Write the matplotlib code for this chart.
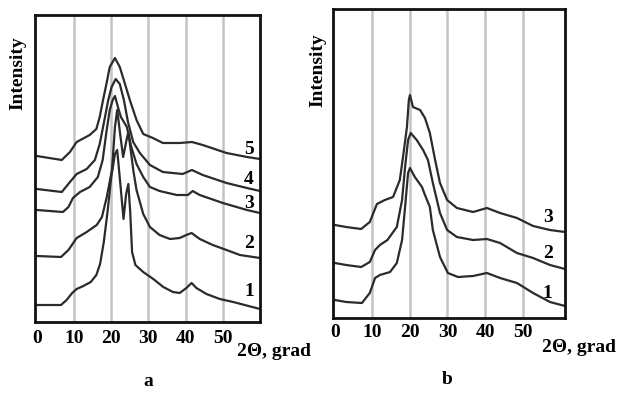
import matplotlib
matplotlib.use("Agg")
import matplotlib.pyplot as plt

# ---------------- data (panel a) ----------------
a1_x = [0, 6.5, 8, 9.5, 10.7, 12.5, 14.5, 16, 17, 18, 19, 20, 21, 21.6, 22.4, 23.3, 24.0, 24.6, 25.1, 25.6, 26.5, 28.6, 31.3, 34, 36.6, 38.4, 40.2, 41.6, 42.9, 45.6, 49.2, 52.8, 60]
a1_y = [17, 17, 22, 29, 33, 36, 40, 47, 58, 80, 110, 145, 168, 172, 140, 103, 128, 138, 110, 70, 57, 50, 43, 35, 30, 29, 34, 39, 34, 28, 23, 20, 13]

a2_x = [0, 6.5, 8.5, 10.7, 13.4, 16.1, 17.5, 18.8, 20.2, 21.0, 21.6, 22.5, 23.2, 24.0, 24.6, 25.3, 26.0, 26.8, 28.6, 30.4, 33, 35.8, 38.4, 40.2, 41.6, 43.8, 47.3, 51, 54.6, 60]
a2_y = [66, 65, 72, 84, 90, 97, 105, 125, 152, 195, 212, 185, 165, 180, 190, 170, 150, 132, 108, 95, 87, 83, 84, 87, 89, 83, 77, 72, 67, 64]

a3_x = [0, 7, 8.5, 9.7, 11.6, 14.2, 16.4, 17.7, 18.7, 19.6, 20.4, 21.0, 21.8, 22.6, 23.4, 24.2, 25.4, 26.8, 28.6, 30.4, 33, 37.6, 40.6, 41.9, 43.8, 50, 56.5, 60]
a3_y = [112, 110, 115, 124, 130, 135, 145, 162, 190, 212, 222, 226, 215, 205, 200, 195, 175, 158, 145, 135, 131, 127, 127, 131, 127, 119, 112, 109]

a4_x = [0, 6.7, 8.9, 10.7, 13.4, 15.6, 16.9, 17.8, 19.2, 20.1, 21.2, 22.3, 23.4, 24.5, 25.9, 27.7, 30.4, 33.9, 39.2, 41.7, 44.6, 51, 56.5, 60]
a4_y = [133, 130, 140, 148, 153, 162, 178, 195, 222, 235, 243, 238, 222, 200, 180, 169, 157, 150, 148, 152, 147, 139, 134, 131]

a5_x = [0, 6.7, 8.9, 10.7, 14.2, 16, 16.9, 17.8, 18.7, 19.6, 21, 22.3, 23.7, 25, 26.8, 28.6, 31.2, 33.9, 38.4, 41.7, 44.6, 51, 56.5, 60]
a5_y = [166, 162, 170, 180, 187, 193, 205, 222, 238, 255, 264, 255, 238, 222, 202, 188, 184, 179, 179, 180, 177, 169, 165, 163]

# ---------------- data (panel b) ----------------
b1_x = [0, 3, 7.2, 9.3, 10.7, 12, 14.7, 16.5, 17.9, 18.7, 19.5, 20, 21.3, 23.2, 24, 25.3, 26.1, 28, 30.1, 32.8, 36.8, 40.5, 44, 48.5, 52.8, 57.3, 61.3]
b1_y = [18, 16, 15, 25, 40, 43, 46, 55, 78, 111, 145, 150, 141, 131, 123, 111, 88, 61, 45, 41, 42, 45, 40, 35, 25, 16, 12]

b2_x = [0, 3, 7, 9.3, 10.7, 12, 14, 16.5, 17.9, 18.7, 19.5, 20.2, 21.8, 23.5, 24.8, 26.1, 28, 29.9, 32.5, 36.8, 40.5, 44, 48.5, 52.8, 57.3, 61.3]
b2_y = [55, 53, 51, 56, 68, 73, 78, 91, 118, 151, 178, 185, 178, 168, 158, 135, 105, 88, 81, 78, 79, 75, 65, 60, 53, 49]

b3_x = [0, 3, 7, 9.3, 11.2, 13.3, 15.5, 17.3, 18.4, 19.2, 19.7, 20, 20.8, 22.7, 24, 25.3, 26.7, 28, 29.9, 32.5, 36.8, 40.5, 44, 48.5, 52.8, 57.3, 61.3]
b3_y = [93, 91, 89, 96, 114, 118, 121, 138, 168, 191, 218, 223, 211, 208, 200, 185, 158, 135, 118, 110, 106, 110, 105, 100, 92, 88, 86]

grid_x = [10, 20, 30, 40, 50]
tick_vals = [0, 10, 20, 30, 40, 50]
tick_labels = ["0", "10", "20", "30", "40", "50"]
labels_a = ["1", "2", "3", "4", "5"]
labels_b = ["1", "2", "3"]

FONT = "Liberation Serif"
FS = 14
W, H = 621, 394
fig = plt.figure(figsize=(W / 100, H / 100), dpi=100)


def frac_axes(l, r, t, b):
    return [l / W, 1 - b / H, (r - l) / W, (b - t) / H]


LC = "#2b2b2b"
GC = "#c4c4c4"


def setup(ax, xlim, ylim, pad):
    ax.set_xlim(*xlim)
    ax.set_ylim(*ylim)
    for gx in grid_x:
        ax.axvline(gx, color=GC, lw=1.8, zorder=0)
    for s in ax.spines.values():
        s.set_linewidth(2.0)
        s.set_color("#111111")
    ax.set_yticks([])
    ax.set_xticks(tick_vals)
    ax.set_xticklabels(tick_labels, fontfamily=FONT, fontweight="bold", fontsize=FS)
    ax.tick_params(axis="x", length=0, pad=pad)


# panel a
axa = fig.add_axes(frac_axes(35, 260, 15, 322))
setup(axa, (-0.5, 60), (0, 307), 5.5)
curves_a = [(a1_x, a1_y), (a2_x, a2_y), (a3_x, a3_y), (a4_x, a4_y), (a5_x, a5_y)]
for x, y in curves_a:
    axa.plot(x, y, color=LC, lw=1.6, zorder=2, solid_joinstyle="round")
lab_pos_a = [(57.0, 30), (57.0, 79), (57.0, 119), (57.0, 142), (57.0, 172)]
for lab, (lx, ly) in zip(labels_a, lab_pos_a):
    axa.text(lx, ly, lab, fontfamily=FONT, fontweight="bold", fontsize=FS,
             ha="center", va="center")

# panel b
axb = fig.add_axes(frac_axes(333, 565, 9, 318))
setup(axb, (-0.5, 61.3), (0, 309), 4.5)
curves_b = [(b1_x, b1_y), (b2_x, b2_y), (b3_x, b3_y)]
for x, y in curves_b:
    axb.plot(x, y, color=LC, lw=1.6, zorder=2, solid_joinstyle="round")
lab_pos_b = [(56.7, 25), (56.7, 65), (56.7, 100)]
for lab, (lx, ly) in zip(labels_b, lab_pos_b):
    axb.text(lx, ly, lab, fontfamily=FONT, fontweight="bold", fontsize=FS,
             ha="center", va="center")

# labels
kw = dict(fontfamily=FONT, fontweight="bold")
fig.text(18 / W, 1 - 73 / H, "Intensity", rotation=90, ha="center", va="center", fontsize=FS, **kw)
fig.text(318 / W, 1 - 70 / H, "Intensity", rotation=90, ha="center", va="center", fontsize=FS, **kw)
fig.text(237 / W, 1 - 352 / H, "2\u0398, grad", ha="left", va="center", fontsize=FS, **kw)
fig.text(542 / W, 1 - 347 / H, "2\u0398, grad", ha="left", va="center", fontsize=FS, **kw)
fig.text(148 / W, 1 - 382 / H, "a", ha="center", va="center", fontsize=FS, **kw)
fig.text(447 / W, 1 - 379 / H, "b", ha="center", va="center", fontsize=FS, **kw)

fig.savefig("out.png", dpi=100)
